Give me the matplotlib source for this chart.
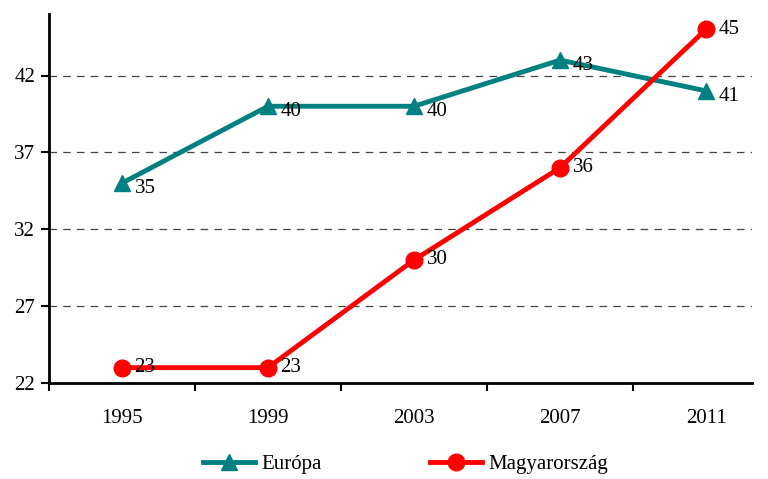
import matplotlib.pyplot as plt

years = ["1995", "1999", "2003", "2007", "2011"]
europa = [35, 40, 40, 43, 41]
magyar = [23, 23, 30, 36, 45]

plt.rcParams['font.family'] = ['Liberation Serif', 'DejaVu Serif']

fig = plt.figure(figsize=(7.68, 4.79), dpi=100)
ax = fig.add_axes([49/768, 1 - 383/479, (752 - 49)/768, (383 - 14)/479])

x = range(len(years))
l1, = ax.plot(x, europa, color='#008080', lw=3.5, marker='^', ms=11, label='Európa')
l2, = ax.plot(x, magyar, color='#ff0000', lw=3.5, marker='o', ms=12, label='Magyarország')

for i, v in enumerate(europa):
    ax.annotate(str(v), (i, v), xytext=(9, -4), textcoords='offset points',
                fontsize=15, va='center', ha='left')
for i, v in enumerate(magyar):
    ax.annotate(str(v), (i, v), xytext=(9, 0), textcoords='offset points',
                fontsize=15, va='center', ha='left')

ax.set_ylim(22, 46)
ax.set_xlim(-0.5, 4.315)
ax.set_yticks([22, 27, 32, 37, 42])
ax.set_xticks(x)
ax.set_xticklabels(years)
ax.set_xticks([i + 0.5 for i in range(-1, 4)], minor=True)
ax.tick_params(axis='x', which='major', length=0, pad=19, labelsize=15)
ax.tick_params(axis='x', which='minor', length=6, width=1.5, direction='out')
ax.tick_params(axis='y', length=6, width=1.5, direction='out', labelsize=15, pad=4)

for y in [27, 32, 37, 42]:
    ax.axhline(y, color='#444444', lw=0.9, ls=(0, (6, 5)), zorder=0)

ax.spines['top'].set_visible(False)
ax.spines['right'].set_visible(False)
ax.spines['left'].set_linewidth(2)
ax.spines['bottom'].set_linewidth(2)

fig.legend(handles=[l1, l2], loc='center', bbox_to_anchor=(0.528, 0.03), ncol=2,
           frameon=False, fontsize=15, columnspacing=5.2, handlelength=2.5,
           handletextpad=0.3, borderpad=0.2)

plt.savefig('out.png', dpi=100)
